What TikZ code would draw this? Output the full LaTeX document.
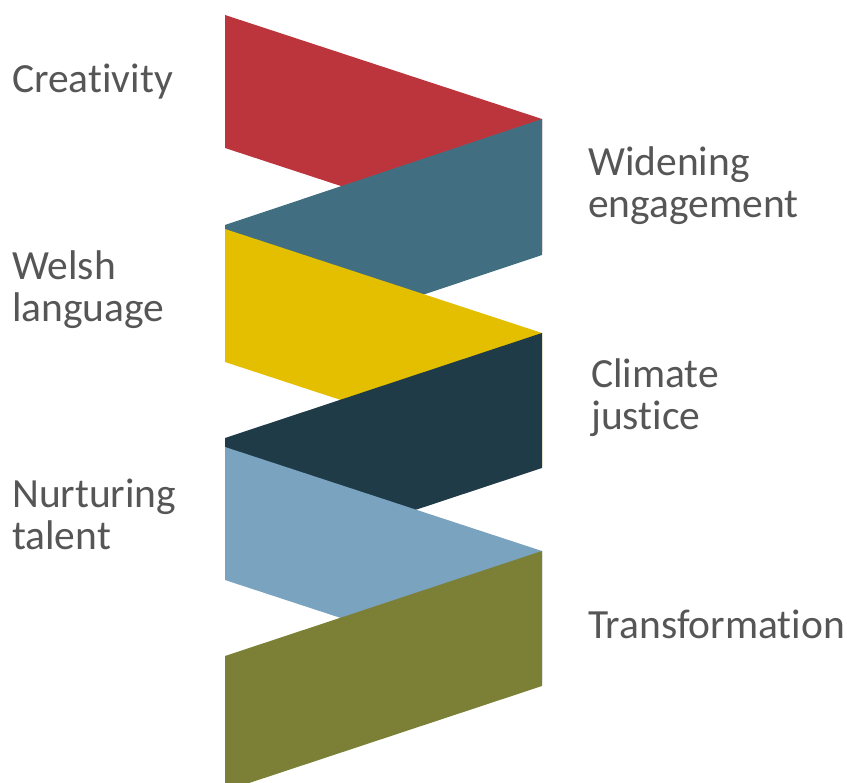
\documentclass[tikz,border=0pt]{standalone}
\usepackage{fontspec}
\setmainfont{Carlito}[Ligatures={NoCommon}]
\definecolor{cred}{HTML}{BD353C}
\definecolor{cteal}{HTML}{416E80}
\definecolor{cyellow}{HTML}{E3BF00}
\definecolor{cnavy}{HTML}{203B48}
\definecolor{clblue}{HTML}{7AA3C0}
\definecolor{colive}{HTML}{7B8036}
\definecolor{ctext}{HTML}{575657}
\begin{document}
\begin{tikzpicture}[x=1pt,y=-1pt,
  band/.style={draw=none},
  lbl/.style={anchor=base west,inner sep=0pt,text=ctext,align=left,
    font=\fontsize{41.5}{42.5}\selectfont}]
\useasboundingbox (0,0) rectangle (847,783);
\fill[band,cred]    (225,15)  -- (542,119) -- (542,252) -- (225,148) -- cycle;
\fill[band,cteal]   (225,225) -- (542,119) -- (542,255) -- (225,361) -- cycle;
\fill[band,cyellow] (225,229) -- (542,333) -- (542,466) -- (225,362) -- cycle;
\fill[band,cnavy]   (225,438) -- (542,333) -- (542,468) -- (225,573) -- cycle;
\fill[band,clblue]  (225,447) -- (542,551) -- (542,684) -- (225,580) -- cycle;
\begin{scope}
\clip (0,0) rectangle (847,783);
\fill[band,colive]  (225,656) -- (542,551) -- (542,686) -- (225,791) -- cycle;
\end{scope}
\node[lbl] (creat) at (12,93) {Creativity};
\node[lbl] (widen) at (588,218) {Widening\\engagement};
\node[lbl] (welsh) at (12,322) {Welsh\\language};
\node[lbl] (clim)  at (591,430) {Climate\\justice};
\node[lbl] (nurt)  at (12,550) {Nurturing\\talent};
\node[lbl] (trans) at (588,639) {Transformation};
\end{tikzpicture}
\end{document}
